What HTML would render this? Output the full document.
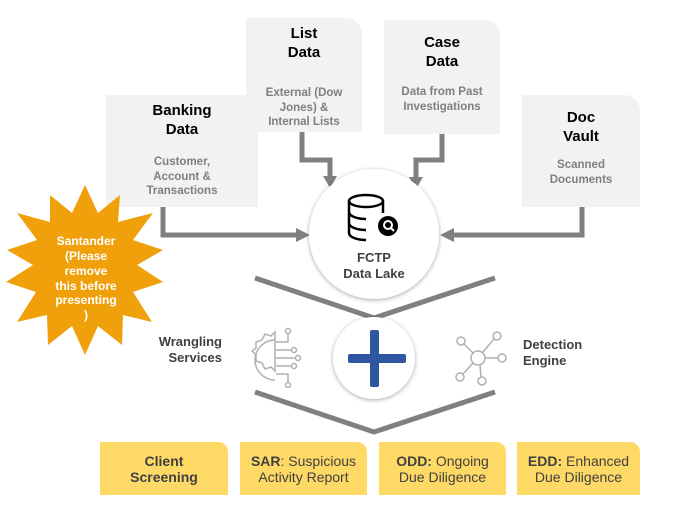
<!DOCTYPE html>
<html><head><style>
body{margin:0;width:694px;height:515px;background:#fff;position:relative;overflow:hidden;font-family:"Liberation Sans",Arial,sans-serif}
.box{position:absolute;background:#f2f2f2;border-top-right-radius:16px;text-align:center}
.t{font-weight:bold;font-size:15px;color:#000;line-height:19px}
.d{font-weight:bold;font-size:11.5px;color:#7f7f7f;line-height:14.5px}
.y{position:absolute;top:442px;height:53px;background:#ffd966;border-top-right-radius:10px;text-align:center;font-size:14px;color:#404040;line-height:16px;display:flex;align-items:center;justify-content:center}
.lbl{position:absolute;font-weight:bold;font-size:13px;color:#404040;line-height:16px}
</style></head><body>
<div class="box" style="left:106px;top:95px;width:152px;height:112px"><div class="t" style="margin-top:6px">Banking<br>Data</div><div class="d" style="margin-top:16px">Customer,<br>Account &amp;<br>Transactions</div></div>
<div class="box" style="left:246px;top:18px;width:116px;height:114px"><div class="t" style="margin-top:6px">List<br>Data</div><div class="d" style="margin-top:24px">External (Dow<br>Jones) &amp;<br>Internal Lists</div></div>
<div class="box" style="left:384px;top:20px;width:116px;height:114px"><div class="t" style="margin-top:13px">Case<br>Data</div><div class="d" style="margin-top:14px">Data from Past<br>Investigations</div></div>
<div class="box" style="left:522px;top:95px;width:118px;height:112px"><div class="t" style="margin-top:13px">Doc<br>Vault</div><div class="d" style="margin-top:12px">Scanned<br>Documents</div></div>
<svg width="694" height="515" style="position:absolute;left:0;top:0">
<g fill="none" stroke="#808080" stroke-width="5">
<polyline points="163,207 163,235 298,235"/>
<polyline points="582,207 582,235 452,235"/>
<polyline points="302,132 302,160 330,160 330,177"/>
<polyline points="442,134 442,160 416,160 416,178"/>
<polyline points="255,278 374,318 495,278"/>
<polyline points="255,392 374,432 495,392"/>
</g>
<g fill="#808080">
<polygon points="296,228 310,235 296,242"/>
<polygon points="454,228 440,235 454,242"/>
<polygon points="323,176 337,176 330,188"/>
<polygon points="409,177 423,177 416,189"/>
</g>
<defs><filter id="sh"><feDropShadow dx="0" dy="1" stdDeviation="2" flood-opacity="0.35"/></filter></defs>
<circle cx="374" cy="234" r="65" fill="#fff" filter="url(#sh)"/>
<circle cx="374" cy="358" r="41" fill="#fff" filter="url(#sh)"/>
<rect x="370" y="330" width="9" height="57" rx="2" fill="#2f56a0"/>
<rect x="348" y="354" width="58" height="9" rx="2" fill="#2f56a0"/>
<g fill="none" stroke="#000" stroke-width="2.5">
<ellipse cx="366" cy="201" rx="17" ry="6"/>
<path d="M349 201v32c0 4 8 7 17 7M383 201v12M349 212c0 4 8 7 17 7M349 223c0 4 8 7 17 7"/>
</g>
<circle cx="388" cy="226" r="10" fill="#000"/>
<circle cx="388" cy="225" r="4" fill="none" stroke="#fff" stroke-width="2"/>
<line x1="391" y1="228" x2="394" y2="231" stroke="#fff" stroke-width="2"/>
<text x="374" y="262" text-anchor="middle" font-weight="bold" font-size="13" fill="#404040">FCTP</text>
<text x="374" y="278" text-anchor="middle" font-weight="bold" font-size="13" fill="#404040">Data Lake</text>
<polygon fill="#f0a00a" points="85,185 98,213 120,195 118,222 153,213 133,240 163,250 137,265 163,282 133,292 152,322 123,315 122,345 98,326 85,355 72,326 48,345 47,315 17,322 36,292 6,282 33,265 7,250 37,240 17,213 50,222 50,195 72,213"/>
<g font-weight="bold" font-size="12" fill="#fff" text-anchor="middle">
<text x="86" y="245">Santander</text><text x="86" y="260">(Please</text><text x="86" y="275">remove</text><text x="86" y="290">this before</text><text x="86" y="304">presenting</text><text x="86" y="319">)</text>
</g>
<g fill="none" stroke="#b0b0b0" stroke-width="1.5">
<path d="M275 332 l-4 4 -6 -2 -3 6 -6 2 v6 l-4 3 4 4 v6 l6 2 3 6 6 -2 4 4 z"/>
<path d="M275 340 a20 20 0 0 0 0 40"/>
<path d="M276 342h12v-8M276 350h16M276 358h20M276 366h16M276 374h12v8"/>
<circle cx="288" cy="331" r="2.5"/><circle cx="294" cy="350" r="2.5"/><circle cx="298" cy="358" r="2.5"/><circle cx="294" cy="366" r="2.5"/><circle cx="288" cy="385" r="2.5"/>
<circle cx="478" cy="358" r="7"/>
<circle cx="461" cy="341" r="4"/><circle cx="497" cy="336" r="4"/><circle cx="502" cy="358" r="4"/><circle cx="460" cy="377" r="4"/><circle cx="482" cy="381" r="4"/>
<path d="M464 344l9 9M494 339l-11 13M498 358h-13M463 374l10-11M481 377l-1-12"/>
</g>
</svg>
<div class="lbl" style="right:472px;top:334px;text-align:right">Wrangling<br>Services</div>
<div class="lbl" style="left:523px;top:337px">Detection<br>Engine</div>
<div class="y" style="left:100px;width:128px"><span><b>Client<br>Screening</b></span></div>
<div class="y" style="left:240px;width:127px"><span><b>SAR</b>: Suspicious<br>Activity Report</span></div>
<div class="y" style="left:379px;width:127px"><span><b>ODD:</b> Ongoing<br>Due Diligence</span></div>
<div class="y" style="left:517px;width:123px"><span><b>EDD:</b> Enhanced<br>Due Diligence</span></div>
</body></html>
